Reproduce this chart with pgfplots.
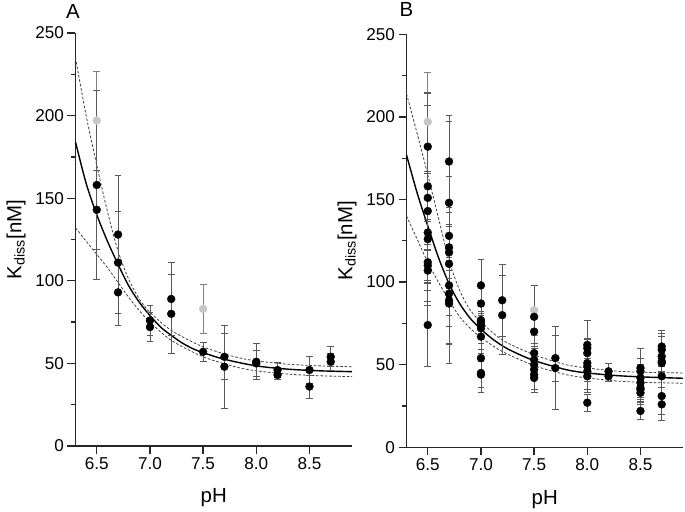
\documentclass[border=0pt]{standalone}
\usepackage{pgfplots}
\pgfplotsset{compat=1.18}
\usepackage{fontspec}
\setmainfont{Liberation Sans}

\pgfplotsset{
  panel/.style={
    scale only axis, width=276.5bp, height=413bp,
    xmin=6.3, xmax=8.9, ymin=0, ymax=250,
    axis x line*=bottom, axis y line*=left,
    axis line style={-, line width=1.6bp, black!85},
    xtick={6.5,7,7.5,8,8.5}, ytick={0,50,...,250},
    minor ytick={25,75,...,225},
    tick align=outside, major tick length=8bp, minor tick length=4.5bp,
    every tick/.append style={black!85, line width=1.3bp},
    tick label style={font=\fontsize{17.2}{19}\selectfont},
    /pgf/number format/assume math mode=true,
    xticklabel style={/pgf/number format/.cd, fixed, fixed zerofill, precision=1},
    xlabel={pH}, ylabel={K\textsubscript{diss}[nM]},
    label style={font=\fontsize{20.5}{22}\selectfont},
    xlabel style={at={(axis description cs:0.5,-0.126)}, anchor=center},
    ylabel style={at={(axis description cs:-0.215,0.5)}, anchor=center},
    clip=false,
  },
  fit/.style={black, line width=1.4bp, smooth, no marks},
  band/.style={black!75, line width=0.8bp, dash pattern=on 2.6bp off 1.8bp, smooth, no marks},
  blk/.style={only marks, mark=*, mark size=3.95bp,
    mark options={draw=black, fill=black, solid},
    error bars/.cd, y dir=both, y explicit,
    error bar style={line width=0.85bp, black!65},
    error mark options={rotate=90, mark size=3.4bp, line width=0.85bp, black!65}},
  gry/.style={only marks, mark=*, mark size=3.95bp,
    mark options={draw=black!22, fill=black!22, solid},
    error bars/.cd, y dir=both, y explicit,
    error bar style={line width=0.85bp, black!50},
    error mark options={rotate=90, mark size=3.4bp, line width=0.85bp, black!50}},
}

\begin{document}
\begin{tikzpicture}
\path[use as bounding box] (-75.5bp,-66bp) rectangle (609.5bp,446bp);

% ---------------- Panel A ----------------
\begin{axis}[panel, at={(0bp,0bp)}, anchor=south west]
\addplot[band] coordinates {(6.30,235) (6.40,200) (6.50,170) (6.60,142) (6.70,118) (6.80,101) (6.90,89) (7.00,81) (7.20,70) (7.50,60) (7.80,54) (8.00,51.5) (8.30,49.5) (8.60,48.5) (8.90,48)};
\addplot[band] coordinates {(6.30,132) (6.40,124) (6.50,116) (6.60,108) (6.70,99) (6.80,90) (6.90,82) (7.00,75) (7.20,64) (7.50,54) (7.80,48) (8.00,45.5) (8.30,43.5) (8.60,42.5) (8.90,42)};
\addplot[fit] coordinates {(6.30,184) (6.40,159) (6.50,140) (6.60,124) (6.70,110) (6.80,97) (6.90,87) (7.00,79) (7.10,72) (7.20,67) (7.30,62.5) (7.40,59) (7.50,56.5) (7.70,52.5) (8.00,48.5) (8.30,46.5) (8.60,45.5) (8.90,45)};
\addplot+[gry] table[x=x, y=y, y error=e] {
x y e
6.5 197 30
7.5 83 15
};
\addplot+[blk] table[x=x, y=y, y error=e] {
x y e
6.5 158 57
6.5 143 24
6.7 128 36
6.7 111 31
6.7 93 20
7.0 76 9
7.0 72 9
7.2 89 22
7.2 80 24
7.5 57 6
7.7 54 14
7.7 48 25
8.0 51 11
8.0 50 8
8.2 46 4.5
8.2 43 3
8.5 46 8
8.5 36 7
8.7 54 6
8.7 51 5
};
\node[font=\fontsize{20.5}{22}\selectfont] at (axis description cs:-0.009,1.052) {A};
\end{axis}

% ---------------- Panel B ----------------
\begin{axis}[panel, at={(331bp,-1.3bp)}, anchor=south west]
\addplot[band] coordinates {(6.30,214) (6.40,190) (6.50,165) (6.60,139) (6.70,113) (6.80,95) (6.90,83) (7.00,76) (7.20,65) (7.50,56) (7.80,50) (8.00,48) (8.30,46) (8.60,45.3) (8.90,45)};
\addplot[band] coordinates {(6.30,140) (6.40,126) (6.50,112) (6.60,100) (6.70,89) (6.80,79) (6.90,72) (7.00,66.5) (7.20,58) (7.50,49.5) (7.80,44) (8.00,42) (8.30,40) (8.60,39.2) (8.90,38.8)};
\addplot[fit] coordinates {(6.30,177) (6.40,154) (6.50,134) (6.60,115) (6.70,99) (6.80,87) (6.90,78) (7.00,71.5) (7.10,66) (7.20,61.5) (7.30,58) (7.50,52.5) (7.80,47) (8.00,45) (8.30,43.3) (8.60,42.4) (8.90,41.8)};
\addplot+[gry] table[x=x, y=y, y error=e] {
x y e
6.5 197 30
7.5 83 15
};
\addplot+[blk] table[x=x, y=y, y error=e] {
x y e
6.5 182 32
6.5 158 57
6.5 151 56
6.5 143 24
6.5 130 7
6.5 126 40
6.5 112 26
6.5 110 10
6.5 107 19
6.5 74 25
6.7 173 28
6.7 148 49
6.7 128 36
6.7 121 14
6.7 118 16
6.7 111 31
6.7 98 36
6.7 93 20
6.7 89 26
6.7 87 36
7.0 98 16
7.0 87 12
7.0 77 9
7.0 76 9
7.0 74 15
7.0 72 9
7.0 67 13
7.0 54 12
7.0 45 12
7.0 44 8
7.2 89 22
7.2 80 24
7.5 79 19
7.5 70 28
7.5 57 6
7.5 53 10
7.5 50 8
7.5 47 14
7.5 44 9
7.5 42 7
7.7 54 14
7.7 48 25
8.0 62 15
8.0 60 6
8.0 57 9
8.0 51 11
8.0 49 16
8.0 46 6
8.0 43 8
8.0 27 5
8.2 46 4.5
8.2 43 3
8.5 48 12
8.5 46 8
8.5 42 6
8.5 39 11
8.5 36 7
8.5 35 5
8.5 33 7
8.5 22 5
8.7 61 10
8.7 59 10
8.7 55 12
8.7 52 8
8.7 51 5
8.7 43 11
8.7 31 11
8.7 26 10
};
\node[font=\fontsize{20.5}{22}\selectfont] at (axis description cs:0.0,1.06) {B};
\end{axis}
\end{tikzpicture}
\end{document}
